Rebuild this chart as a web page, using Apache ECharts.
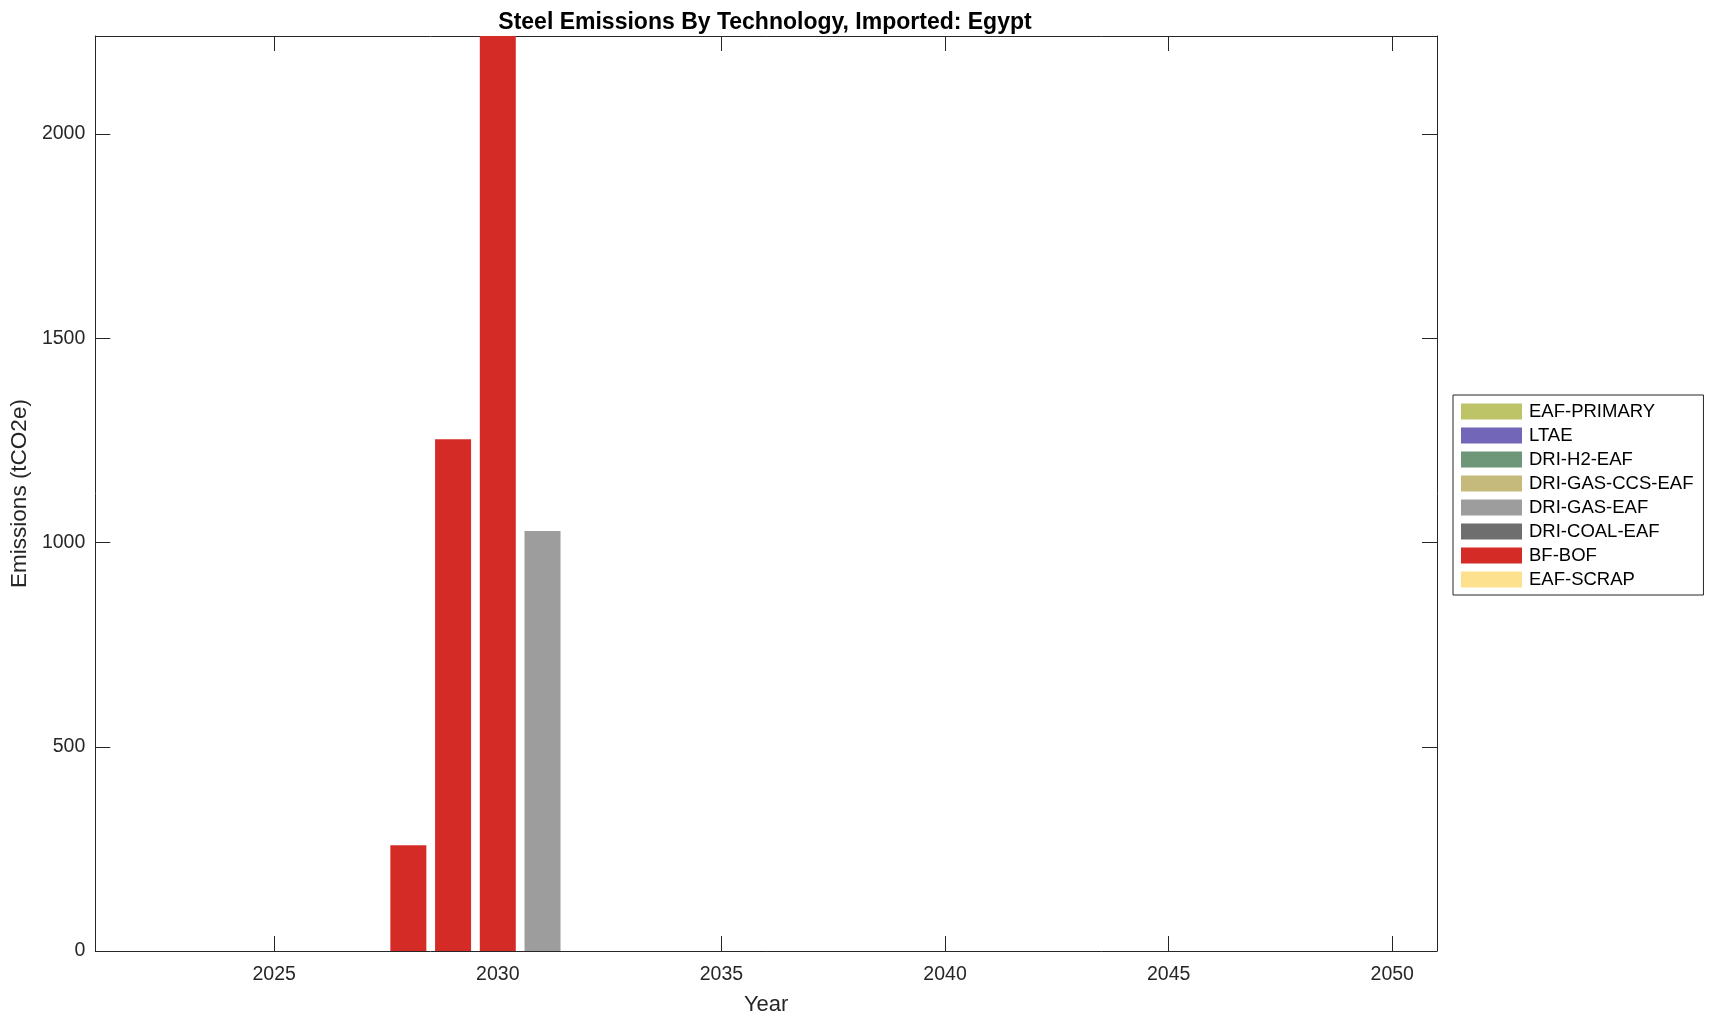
<!DOCTYPE html>
<html><head><meta charset="utf-8">
<script src="https://cdn.jsdelivr.net/npm/echarts@6/dist/echarts.min.js"></script>
<style>html,body{margin:0;padding:0;background:#fff}#c{width:1714px;height:1021px}</style>
</head><body><div id="c"></div>
<script>
const years = [2021,2022,2023,2024,2025,2026,2027,2028,2029,2030,2031,2032,2033,2034,2035,2036,2037,2038,2039,2040,2041,2042,2043,2044,2045,2046,2047,2048,2049,2050,2051];
const techNames = ['EAF-PRIMARY','LTAE','DRI-H2-EAF','DRI-GAS-CCS-EAF','DRI-GAS-EAF','DRI-COAL-EAF','BF-BOF','EAF-SCRAP'];
const techColors = ['#bdc468','#7266b8','#6e9678','#c5ba7c','#9d9d9d','#6e6e6e','#d42b26','#fde18f'];
// non-zero values by year
const bfBofYears = [2028, 2029, 2030];
const bfBofValues = [259, 1253, 2240];
const driGasYears = [2031];
const driGasValues = [1028];
const yTicks = [0, 500, 1000, 1500, 2000];
const xTicks = [2025, 2030, 2035, 2040, 2045, 2050];

function seriesData(name) {
  let ys = [], vs = [];
  if (name === 'BF-BOF') { ys = bfBofYears; vs = bfBofValues; }
  if (name === 'DRI-GAS-EAF') { ys = driGasYears; vs = driGasValues; }
  return years.map(y => { const i = ys.indexOf(y); return i >= 0 ? vs[i] : 0; });
}
const font = 'Liberation Sans, Arial, Helvetica, sans-serif';
const axCol = '#262626';
const chart = echarts.init(document.getElementById('c'), null, {renderer: 'canvas'});
const xLabelInterval = (i, v) => xTicks.indexOf(Number(v)) >= 0;
chart.setOption({
  animation: false,
  title: {text: 'Steel Emissions By Technology, Imported: Egypt', left: 760, textAlign: 'center', top: 6,
    textStyle: {fontFamily: font, fontSize: 23, fontWeight: 'bold', color: '#000'}},
  grid: {left: 95, right: 277, top: 36, bottom: 68},
  legend: {orient: 'vertical', left: 1453, top: 395, data: techNames, icon: 'rect',
    itemWidth: 61, itemHeight: 16, itemGap: 5, padding: [7, 10, 6, 8],
    borderColor: '#262626', borderWidth: 1, selectedMode: false,
    textStyle: {fontFamily: font, fontSize: 18.5, lineHeight: 16, color: '#000', padding: [0,0,0,2]}},
  xAxis: [{
    type: 'category', data: years, boundaryGap: false,
    name: 'Year', nameLocation: 'middle', nameGap: 43,
    nameTextStyle: {fontFamily: font, fontSize: 22, color: axCol},
    axisLine: {show: true, onZero: false, lineStyle: {color: axCol, width: 1}},
    axisTick: {inside: true, length: 15, interval: xLabelInterval, lineStyle: {color: axCol}},
    axisLabel: {interval: xLabelInterval, fontFamily: font, fontSize: 19.5, color: axCol, margin: 14},
    splitLine: {show: false}
  }, {
    type: 'category', data: years, boundaryGap: false, position: 'top',
    axisLine: {show: true, onZero: false, lineStyle: {color: axCol, width: 1}},
    axisTick: {inside: true, length: 15, interval: xLabelInterval, lineStyle: {color: axCol}},
    axisLabel: {show: false}, splitLine: {show: false}
  }],
  yAxis: [{
    type: 'value', min: 0, max: 2240, interval: 500,
    name: 'Emissions (tCO2e)', nameLocation: 'middle', nameGap: 63,
    nameTextStyle: {fontFamily: font, fontSize: 22.5, color: axCol},
    axisLine: {show: true, onZero: false, lineStyle: {color: axCol, width: 1}},
    axisTick: {show: true, inside: true, length: 15, lineStyle: {color: axCol}},
    axisLabel: {fontFamily: font, fontSize: 19.5, color: axCol, margin: 10, showMaxLabel: false,
      formatter: v => (yTicks.indexOf(v) >= 0 ? String(v) : '')},
    splitLine: {show: false}
  }, {
    type: 'value', min: 0, max: 2240, interval: 500, position: 'right',
    axisLine: {show: true, onZero: false, lineStyle: {color: axCol, width: 1}},
    axisTick: {show: true, inside: true, length: 15, lineStyle: {color: axCol}},
    axisLabel: {show: false}, splitLine: {show: false}
  }],
  series: techNames.map((n, i) => ({
    name: n, type: 'bar', stack: 'total', xAxisIndex: 0, yAxisIndex: 0,
    barWidth: 36, data: seriesData(n),
    itemStyle: {color: techColors[i]}, emphasis: {disabled: true}
  }))
});
</script></body></html>
